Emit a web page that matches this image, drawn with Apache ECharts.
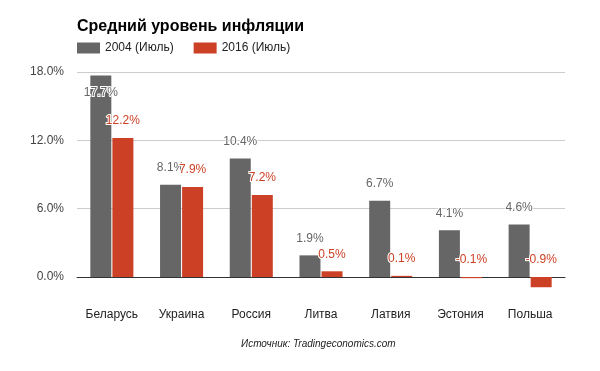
<!DOCTYPE html>
<html><head><meta charset="utf-8">
<script src="https://cdn.jsdelivr.net/npm/echarts@6/dist/echarts.min.js"></script>
<style>html,body{margin:0;padding:0;background:#fff}#c{width:600px;height:371px}</style>
</head><body><div id="c"></div>
<script>
const categories = ['Беларусь','Украина','Россия','Литва','Латвия','Эстония','Польша'];
const values2004 = [17.7, 8.1, 10.4, 1.9, 6.7, 4.1, 4.6];
const values2016 = [12.2, 7.9, 7.2, 0.5, 0.1, -0.1, -0.9];
const seriesNames = ['2004 (Июль)', '2016 (Июль)'];
const yTicks = [0, 6, 12, 18];
const titleText = 'Средний уровень инфляции';
const sourceText = 'Источник: Tradingeconomics.com';

const font = 'Arial, "Liberation Sans", sans-serif';
const colors = ['#666666', '#cc4125'];
const yMax = yTicks[yTicks.length - 1];

function makeData(vals) {
  return vals.map(v => {
    const item = { value: v };
    if (v > yMax - 1.5) {
      item.label = { position: 'insideTop', distance: 11 };
    }
    return item;
  });
}

function labelCfg(color) {
  return {
    show: true, position: 'top', distance: 11,
    formatter: p => p.value.toFixed(1) + '%',
    color: color, fontFamily: font, fontSize: 12,
    textBorderColor: '#fff', textBorderWidth: 2
  };
}

const chart = echarts.init(document.getElementById('c'), null, { renderer: 'canvas' });
chart.setOption({
  animation: false,
  backgroundColor: '#fff',
  title: {
    text: titleText, left: 72, top: 14,
    textStyle: { fontFamily: font, fontSize: 16, fontWeight: 'bold', color: '#000' }
  },
  legend: {
    left: 72, top: 37, icon: 'rect', itemWidth: 23, itemHeight: 11, itemGap: 20,
    textStyle: { fontFamily: font, fontSize: 12, color: '#222' },
    data: seriesNames
  },
  grid: { left: 77, right: 35, top: 72, bottom: 94 },
  xAxis: {
    type: 'category', data: categories,
    axisTick: { show: false },
    axisLine: { lineStyle: { color: '#333', width: 1 } },
    axisLabel: { margin: 32, fontFamily: font, fontSize: 12, color: '#222' }
  },
  yAxis: {
    type: 'value', min: yTicks[0], max: yMax, interval: 6,
    axisLine: { show: false }, axisTick: { show: false },
    splitLine: { lineStyle: { color: '#cccccc' } },
    axisLabel: { formatter: v => v.toFixed(1) + '%', fontFamily: font, fontSize: 12, color: '#444', margin: 13 }
  },
  graphic: [{
    type: 'text', left: 241, top: 339,
    style: { text: sourceText, font: 'italic 10px ' + font, fill: '#222' }
  }],
  series: [
    { name: seriesNames[0], type: 'bar', barWidth: 21, barGap: '5%', clip: false,
      itemStyle: { color: colors[0] }, label: labelCfg(colors[0]), data: makeData(values2004) },
    { name: seriesNames[1], type: 'bar', barWidth: 21, barGap: '5%', clip: false,
      itemStyle: { color: colors[1] }, label: labelCfg(colors[1]), data: makeData(values2016) }
  ]
});
</script></body></html>
